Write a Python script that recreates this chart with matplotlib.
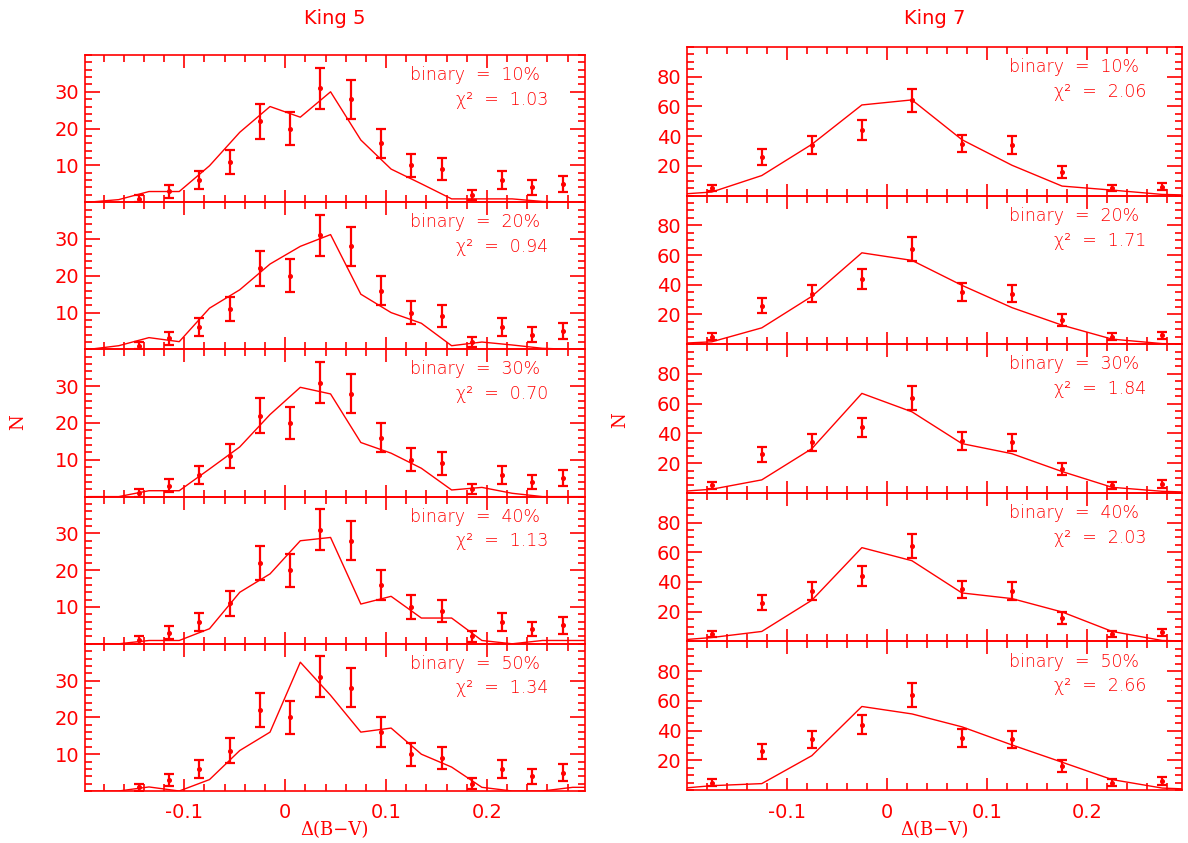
import numpy as np
import matplotlib
matplotlib.use("Agg")
import matplotlib.pyplot as plt
from matplotlib.ticker import MultipleLocator, FuncFormatter

plt.rcParams['axes.unicode_minus'] = False

RED = '#ff0000'

# binary fractions and fit quality
binary = ['10%', '20%', '30%', '40%', '50%']
chi2_k5 = ['1.03', '0.94', '0.70', '1.13', '1.34']
chi2_k7 = ['2.06', '1.71', '1.84', '2.03', '2.66']

# King 5: observed colour distribution
k5_x = [-0.145, -0.115, -0.085, -0.055, -0.025, 0.005, 0.035, 0.065,
        0.095, 0.125, 0.155, 0.185, 0.215, 0.245, 0.275]
k5_n = [1, 3, 6, 11, 22, 20, 31, 28, 16, 10, 9, 2, 6, 4, 5]

# King 5: simulated distributions
k5_mx = [-0.195, -0.165, -0.135, -0.105, -0.075, -0.045, -0.015, 0.015, 0.045,
         0.075, 0.105, 0.135, 0.165, 0.195, 0.225, 0.255, 0.285, 0.315]
k5_m10 = [0, 0.7, 2.9, 2.9, 9.9, 19, 26, 23.1, 30, 16.9, 9, 5, 0.9, 0.9, 0.9, 0.2, 0, 0]
k5_m20 = [0, 1.0, 3.2, 2.1, 11.2, 16.2, 23.2, 28, 31.2, 15, 10, 7.1, 1.0, 2, 1.2, 0.3, 0, 0]
k5_m30 = [0, 0, 1.6, 1.6, 7.5, 13.5, 22.3, 29.7, 27.9, 14.7, 11.8, 7.7, 1.8, 2.5, 0.9, 0, 0, 0]
k5_m40 = [0, 0, 0.9, 0.9, 4.1, 14.0, 19.0, 28.0, 28.9, 10.8, 12.9, 7.0, 7.0, 0.9, 0, 0.9, 0.9, 0.9]
k5_m50 = [0, 0, 1.1, 0, 3.1, 11, 16, 35, 26, 16, 17.1, 10, 6.5, 1, 0, 0, 1, 1]

# King 7: observed colour distribution
k7_x = [-0.175, -0.125, -0.075, -0.025, 0.025, 0.075, 0.125, 0.175, 0.225, 0.275]
k7_n = [5, 26, 34, 44, 64, 35, 34, 16, 5, 6]

# King 7: simulated distributions
k7_mx = [-0.225, -0.175, -0.125, -0.075, -0.025, 0.025, 0.075, 0.125,
         0.175, 0.225, 0.275, 0.325]
k7_m10 = [0.1, 2.4, 13.5, 34.5, 61, 64.4, 37.6, 20.4, 6.4, 3.7, 0.8, 0]
k7_m20 = [0, 1.6, 11, 32.2, 61.5, 56.4, 39.6, 24.6, 12.8, 3.4, 0.4, 0]
k7_m30 = [0, 2.4, 8.7, 29.7, 66.9, 54.5, 33.1, 26.3, 14.3, 3.7, 1.0, 0]
k7_m40 = [0, 2.6, 6.7, 27.7, 63.1, 54.3, 32.6, 28.8, 19.8, 6.7, 0.6, 0]
k7_m50 = [0, 2.9, 4.3, 23.1, 56.2, 51.2, 42.5, 30.3, 18.7, 7.0, 1.3, 0]

W, H = 1188, 843
fig = plt.figure(figsize=(W / 100, H / 100), dpi=100)


def xfmt(v, pos):
    # "0" instead of "0.0", like the original axis
    return '0' if abs(v) < 1e-9 else '%.1f' % v


def panel(rect, xlim, ymax, ymaj, ymin, ox, on, mx, my, bin_txt, chi_txt, bottom):
    ax = fig.add_axes(rect)
    ax.set_xlim(*xlim)
    ax.set_ylim(0, ymax)
    ax.plot(mx, my, color=RED, lw=1.0)
    ax.errorbar(ox, on, yerr=np.sqrt(on), fmt='o', ms=2.6, color=RED,
                elinewidth=1.6, capsize=3.4, capthick=1.6)
    ax.xaxis.set_major_locator(MultipleLocator(0.1))
    ax.xaxis.set_minor_locator(MultipleLocator(0.02))
    ax.xaxis.set_major_formatter(FuncFormatter(xfmt))
    ax.set_yticks(ymaj)
    ax.yaxis.set_minor_locator(MultipleLocator(ymin))
    ax.tick_params(which='both', direction='in', top=True, right=True,
                   color=RED, width=1.2, labelcolor=RED, labelsize=14)
    ax.tick_params(axis='x', which='major', length=9, pad=9)
    ax.tick_params(axis='x', which='minor', length=4.7)
    ax.tick_params(axis='y', which='major', length=10.5, pad=4)
    ax.tick_params(axis='y', which='minor', length=5.3)
    if not bottom:
        ax.tick_params(axis='x', labelbottom=False)
    for s in ax.spines.values():
        s.set_color(RED)
        s.set_linewidth(1.2)
    ax.patch.set_alpha(0)
    ax.text(0.650, 0.864, 'binary  =  ' + bin_txt, transform=ax.transAxes,
            color=RED, fontsize=12.5, fontweight='light', va='center', ha='left')
    ax.text(0.742, 0.697, '\u03c7\u00b2  =  ' + chi_txt, transform=ax.transAxes,
            color=RED, fontsize=12.5, fontweight='light', va='center', ha='left')
    return ax


k5_models = [k5_m10, k5_m20, k5_m30, k5_m40, k5_m50]
k7_models = [k7_m10, k7_m20, k7_m30, k7_m40, k7_m50]

# left column: King 5
lx0, lw = 84.6 / W, 500.4 / W
ltop, lbot = 55, 791
lh = (lbot - ltop) / 5
for i in range(5):
    y0 = 1 - (ltop + (i + 1) * lh) / H
    panel([lx0, y0, lw, lh / H], (-0.1988, 0.2972), 40, [10, 20, 30], 2,
          k5_x, k5_n, k5_mx, k5_models[i], binary[i], chi2_k5[i], i == 4)

# right column: King 7
rx0, rw = 687.3 / W, 494.7 / W
rtop, rbot = 47, 790
rh = (rbot - rtop) / 5
for i in range(5):
    y0 = 1 - (rtop + (i + 1) * rh) / H
    panel([rx0, y0, rw, rh / H], (-0.1994, 0.2948), 100, [20, 40, 60, 80], 5,
          k7_x, k7_n, k7_mx, k7_models[i], binary[i], chi2_k7[i], i == 4)

# titles and axis labels
fig.text((84.6 + 585) / 2 / W, 1 - 18 / H, 'King 5', color=RED, fontsize=14,
         ha='center', va='center')
fig.text((687.3 + 1182) / 2 / W, 1 - 18 / H, 'King 7', color=RED, fontsize=14,
         ha='center', va='center')
fig.text((84.6 + 585) / 2 / W, 1 - 830 / H, '\u0394(B\u2212V)', color=RED,
         fontsize=13, family='DejaVu Serif', ha='center', va='center')
fig.text((687.3 + 1182) / 2 / W, 1 - 830 / H, '\u0394(B\u2212V)', color=RED,
         fontsize=13, family='DejaVu Serif', ha='center', va='center')
fig.text(18 / W, 1 - 422 / H, 'N', color=RED, fontsize=13, family='DejaVu Serif',
         rotation=90, ha='center', va='center')
fig.text(620 / W, 1 - 420 / H, 'N', color=RED, fontsize=13, family='DejaVu Serif',
         rotation=90, ha='center', va='center')

fig.savefig('out.png', dpi=100)
